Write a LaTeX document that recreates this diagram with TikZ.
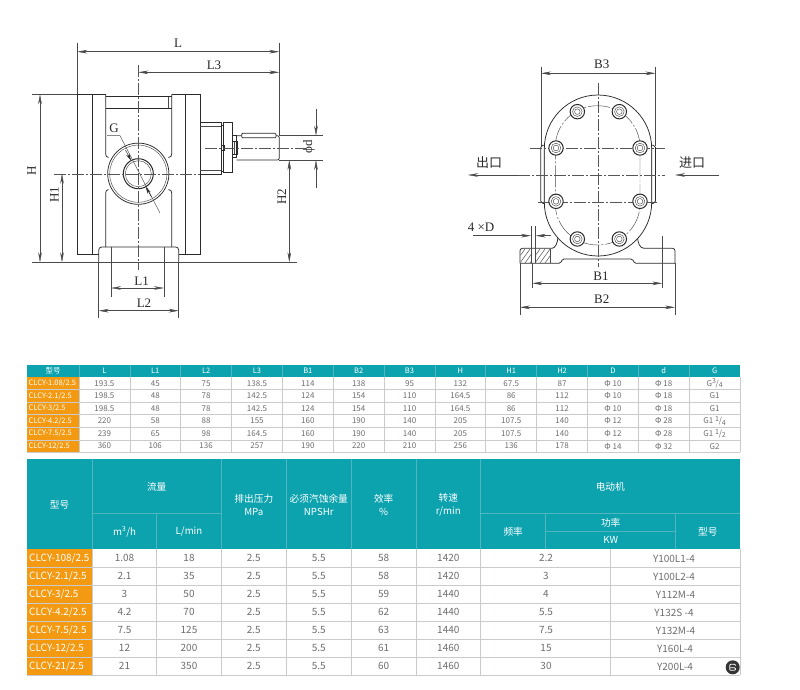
\documentclass[tikz,border=0pt]{standalone}
\usepackage{fontspec}
\setmainfont{Liberation Serif}
\newfontfamily\cjkf{Noto Sans CJK SC}
\usetikzlibrary{arrows.meta,patterns}
\definecolor{teal1}{HTML}{0CA3AF}
\definecolor{tealline}{HTML}{4FB5BE}
\definecolor{orange1}{HTML}{F39A12}
\definecolor{gridc}{HTML}{C9CBCD}
\definecolor{txt}{HTML}{6E6E6E}
\definecolor{ink}{HTML}{2A2A2A}
\tikzset{
 part/.style={draw=ink,line width=0.75pt},
 thinl/.style={draw=ink!85,line width=0.45pt},
 centre/.style={draw=ink!80,line width=0.4pt,dash pattern=on 12pt off 2pt on 2pt off 2pt},
 dim/.style={draw=ink!85,line width=0.45pt,{Stealth[length=10pt,width=3.6pt]}-{Stealth[length=10pt,width=3.6pt]}},
 dimend/.style={draw=ink!85,line width=0.45pt,-{Stealth[length=10pt,width=3.6pt]}},
 lab/.style={font=\fontsize{13}{14}\selectfont,text=ink,inner sep=0pt},
 lab2/.style={font=\cjkf\fontsize{13}{14}\selectfont,text=ink,inner sep=0pt},
 ta/.style={font=\cjkf\fontsize{8}{9}\selectfont,text=txt,inner sep=0pt},
 tah/.style={font=\cjkf\fontsize{7.5}{8}\selectfont,text=white,inner sep=0pt},
 tao/.style={font=\cjkf\fontsize{7.5}{8}\selectfont,text=white,inner sep=0pt,anchor=west},
 tb/.style={font=\cjkf\fontsize{10}{11}\selectfont,text=txt,inner sep=0pt},
 tbh/.style={font=\cjkf\fontsize{9.7}{12.5}\selectfont,text=white,inner sep=0pt,align=center},
 tbo/.style={font=\cjkf\fontsize{10}{11}\selectfont,text=white,inner sep=0pt,anchor=west},
 gridl/.style={draw=gridc,line width=0.7pt},
 headl/.style={draw=tealline,line width=0.7pt},
}
\newcommand{\fracG}[3]{#1\raisebox{2.4pt}{\fontsize{7}{7}\selectfont #2}\kern-.3pt/\raisebox{-1.5pt}{\fontsize{7}{7}\selectfont #3}}
\begin{document}
\begin{tikzpicture}[x=1pt,y=-1pt]
\useasboundingbox (0,0) rectangle (800,689);
\fill[white] (0,0) rectangle (800,689);
%% ===== front view =====
\draw[part] (105.7,94.3) -- (77.3,94.3) -- (77.3,254) -- (98.7,254);
\draw[part] (171.7,94.3) -- (200,94.3) -- (200,254) -- (178.7,254);
\draw[part] (105.7,94.3) -- (105.7,154) .. controls (105.7,156) and (106.5,157) .. (108.5,157.5);
\draw[part] (171.7,94.3) -- (171.7,154) .. controls (171.7,156) and (171,157) .. (168.5,157.5);
\draw[part] (108.5,189.5) .. controls (106.5,190) and (105.7,191) .. (105.7,193) -- (105.7,247);
\draw[part] (168.5,189.5) .. controls (171,190) and (171.7,191) .. (171.7,193) -- (171.7,247);
\draw[part] (105.7,96.5) -- (171.7,96.5);
\draw[part] (105.7,108) -- (171.7,108);
\draw[thinl] (168.5,96.5) -- (168.5,108);
\draw[part] (92.3,94.3) -- (92.3,254);
\draw[part] (185,94.3) -- (185,254);
\draw[part,rounded corners=3pt] (98.7,262.3) -- (98.7,247) -- (178.7,247) -- (178.7,262.3);
\draw[part] (98.7,262.3) -- (178.7,262.3);
% port
\fill[white] (138.3,173.7) circle (30.6);
\draw[part] (138.3,173.7) circle (30.6);
\draw[thinl] (138.3,173.7) circle (28.6);
\draw[part,line width=1pt] (138.3,173.7) circle (15);
\draw[thinl] (138.3,173.7) circle (13);
% drive
\draw[part] (200,122.3) rectangle (221.7,174);
\draw[thinl] (200,126) -- (221.7,126);
\draw[thinl] (200,170.5) -- (221.7,170.5);
\draw[part] (221.7,125) rectangle (223.2,171);
\draw[part,line width=1pt] (223.2,122.7) rectangle (232,172.7);
\draw[part] (221,145) rectangle (224,150);
\draw[part] (232,135) rectangle (236.7,157);
\draw[part,line width=1pt] (232,141.5) rectangle (237,154);
\draw[thinl] (234,141.5) -- (234,154);
\draw[part,rounded corners=2pt] (236.7,135.7) -- (279.3,135.7) -- (279.3,160) -- (236.7,160);
\draw[part,fill=white,rounded corners=1pt] (241.7,133.3) rectangle (276,137.8);
% centre lines
\draw[centre] (138.3,65) -- (138.3,270);
\draw[centre] (54,173.7) -- (200,173.7);
\draw[centre] (205,147.7) -- (306,147.7);
% extension lines
\draw[thinl] (77.3,42.7) -- (77.3,94.3);
\draw[thinl] (279.3,42.7) -- (279.3,135.7);
\draw[thinl] (32,94.3) -- (77.3,94.3);
\draw[thinl] (32,262.3) -- (296.7,262.3);
\draw[thinl] (279.3,135.7) -- (323,135.7);
\draw[thinl] (279.3,160) -- (323,160);
\draw[thinl] (111,247) -- (111,297);
\draw[thinl] (164,247) -- (164,297);
\draw[thinl] (98.7,262.3) -- (98.7,318);
\draw[thinl] (178.7,262.3) -- (178.7,318);
% dims
\coordinate (LL) at (77.3,51.7); \coordinate (LR) at (279.3,51.7);
\draw[dim] (LL) -- (LR);
\coordinate (L3a) at (138.3,72.3); \coordinate (L3b) at (279.3,72.3);
\draw[dim] (L3a) -- (L3b);
\coordinate (Ha) at (40,94.3); \coordinate (Hb) at (40,262.3);
\draw[dim] (Ha) -- (Hb);
\coordinate (H1a) at (62,173.7); \coordinate (H1b) at (62,262.3);
\draw[dim] (H1a) -- (H1b);
\coordinate (H2a) at (289.3,160); \coordinate (H2b) at (289.3,262.3);
\draw[dim] (H2a) -- (H2b);
\coordinate (da) at (316,109); \coordinate (db) at (316,135.7);
\coordinate (dc) at (316,187.7); \coordinate (dd) at (316,160);
\draw[dimend] (da) -- (db);
\draw[dimend] (dc) -- (dd);
\coordinate (L1a) at (111,288); \coordinate (L1b) at (164,288);
\draw[dim] (L1a) -- (L1b);
\coordinate (L2a) at (98.7,310.7); \coordinate (L2b) at (178.7,310.7);
\draw[dim] (L2a) -- (L2b);
% G leader
\draw[thinl] (107,135.7) -- (120,135.7) -- (160,213);
\draw[draw=ink,line width=0.5pt,-{Stealth[length=7pt,width=3.4pt]}] (125.5,150) -- (131,160.5);
\draw[draw=ink,line width=0.5pt,-{Stealth[length=7pt,width=3.4pt]}] (151.5,197) -- (145.7,186.8);
% labels
\node[lab] (tL) at (178,43) {L};
\node[lab] (tL3) at (214,65.7) {L3};
\node[lab,rotate=90] (tH) at (31.7,170.7) {H};
\node[lab,rotate=90] (tH1) at (54.3,195) {H1};
\node[lab,rotate=90] (tH2) at (281.7,196.7) {H2};
\node[lab,rotate=90] (tphid) at (309,146.7) {ϕd};
\node[lab] (tG) at (114,128) {G};
\node[lab] (tL1) at (141.7,281.7) {L1};
\node[lab] (tL2) at (144,303) {L2};
%% ===== side view =====
% foot
\draw[part,rounded corners=2.5pt] (520,263.3) -- (520,248.3) -- (552,248.3);
\draw[part] (552,248.3) .. controls (555,248.3) and (558,243) .. (558,236);
\draw[part] (637.5,236) .. controls (637.5,243) and (640,248.3) .. (644,248.3);
\draw[part,rounded corners=2.5pt] (644,248.3) -- (675,248.3) -- (675,263.3);
\draw[part,rounded corners=1.5pt] (520,263.3) -- (560.5,263.3) -- (562.5,259) -- (632.5,259) -- (634.5,263.3) -- (675,263.3);
% ports
\draw[part,rounded corners=2pt] (546,145) -- (540.7,145.5) -- (540.7,203) -- (546,203.8);
\draw[part] (544.3,145) -- (544.3,204);
\draw[part,rounded corners=2pt] (650,145) -- (655.5,145.5) -- (655.5,203) -- (650,203.8);
\draw[part] (651.7,145) -- (651.7,204);
% casing
\draw[part,fill=white] (544.3,148.7) arc (180:360:53.7) -- (651.7,202.3) arc (0:180:53.7) -- cycle;
\draw[thinl,dash pattern=on 22pt off 2pt on 2pt off 2pt] (555.3,147) arc (180:360:42.35 and 41.3) -- (640,204) arc (0:180:42.35 and 41) -- cycle;
% section through the foot
\begin{scope}
\clip (520.5,249) rectangle (531,263);
\foreach \k in {0,5,...,40} {\draw[thinl] (515+\k,263) -- (525+\k,249);}
\end{scope}
\begin{scope}
\clip (536,249) rectangle (550.5,263);
\foreach \k in {0,5,...,45} {\draw[thinl] (515+\k,263) -- (525+\k,249);}
\end{scope}
\draw[thinl] (531,226) -- (531,263);
\draw[thinl] (535.7,226) -- (535.7,263);
\draw[thinl] (550.5,249) -- (550.5,263);
% centre lines
\draw[centre] (597.7,83) -- (597.7,267);
\draw[centre] (530,148) -- (665,148);
\draw[centre] (538,202.3) -- (657,202.3);
\draw[centre] (518,175) -- (665,175);
% bolts
\foreach \bx/\by [count=\n] in {382/215,508/215,318/324,570/324,318/484,570/484,382/597,508/597}{
 \coordinate (bolt\n) at ({450+\bx/3},{40+\by/3});
 \draw[part,fill=white,line width=1pt] (bolt\n) circle (7.2);
 \draw[thinl] (bolt\n) circle (4.8);
 \draw[thinl] (bolt\n) circle (2.8);
}
% ext + dims
\draw[thinl] (541,66.7) -- (541,146);
\draw[thinl] (655.5,66.7) -- (655.5,146);
\draw[thinl] (532.3,263) -- (532.3,288);
\draw[thinl] (662.3,236) -- (662.3,288);
\draw[thinl] (520,263.3) -- (520,315);
\draw[thinl] (675,263.3) -- (675,315);
\coordinate (B3a) at (541,73.3); \coordinate (B3b) at (655.5,73.3);
\draw[dim] (B3a) -- (B3b);
\coordinate (B1a) at (532.3,283.3); \coordinate (B1b) at (662.3,283.3);
\draw[dim] (B1a) -- (B1b);
\coordinate (B2a) at (520,307.3); \coordinate (B2b) at (675,307.3);
\draw[dim] (B2a) -- (B2b);
\coordinate (Da) at (473,235.7); \coordinate (Db) at (531,235.7);
\coordinate (Dc) at (551,235.7); \coordinate (Dd) at (535.7,235.7);
\draw[dimend] (Da) -- (Db);
\draw[dimend] (Dc) -- (Dd);
\coordinate (oa) at (518,175); \coordinate (ob) at (468,175);
\draw[dimend] (oa) -- (ob);
\coordinate (ia) at (719,175); \coordinate (ib) at (675,175);
\draw[dimend] (ia) -- (ib);
\node[lab] (tB3) at (601.7,64) {B3};
\node[lab] (tB1) at (601,276.7) {B1};
\node[lab] (tB2) at (601.7,299.3) {B2};
\node[lab] (tD) at (481,227) {4 ×D};
\node[lab2] (tout) at (489,163) {出口};
\node[lab2] (tin) at (692,163) {进口};
%% ===== table 1 =====
\fill[teal1] (27.3,365) rectangle (740,377);
\fill[orange1] (27.3,377) rectangle (79,452.3);
\foreach \yy in {389.3,402,414.7,427.3,440,452.3} \draw[gridl] (27.3,\yy) -- (740,\yy);
\foreach \c in {1,...,13} {
 \draw[headl] ({79+(\c-1)*50.85},365) -- ({79+(\c-1)*50.85},377);
 \draw[gridl] ({79+(\c-1)*50.85},377) -- ({79+(\c-1)*50.85},452.3);
}
\draw[gridl] (740,377) -- (740,452.3);
\foreach \t [count=\c] in {L,L1,L2,L3,B1,B2,B3,H,H1,H2,D,d,G}
 \node[tah] (ah\c) at ({79+(\c-.5)*50.85},371) {\t};
\node[tah] (ah0) at (53,371) {型号};
\foreach \nm [count=\r] in {CLCY-1.08/2.5,CLCY-2.1/2.5,CLCY-3/2.5,CLCY-4.2/2.5,CLCY-7.5/2.5,CLCY-12/2.5}
 \node[tao] (an\r) at (28.5,{383.2+(\r-1)*12.58}) {\nm};
\newcommand{\arow}[2]{\foreach \v [count=\c] in {#2}
 \node[ta] (a#1-\c) at ({79+(\c-.5)*50.85},{383.2+(#1-1)*12.58}) {\v};}
\arow{1}{193.5,45,75,138.5,114,138,95,132,67.5,87,Φ 10,Φ 18,{\fracG{G}{3}{4}}}
\arow{2}{198.5,48,78,142.5,124,154,110,164.5,86,112,Φ 10,Φ 18,G1}
\arow{3}{198.5,48,78,142.5,124,154,110,164.5,86,112,Φ 10,Φ 18,G1}
\arow{4}{220,58,88,155,160,190,140,205,107.5,140,Φ 12,Φ 28,{\fracG{G1 }{1}{4}}}
\arow{5}{239,65,98,164.5,160,190,140,205,107.5,140,Φ 12,Φ 28,{\fracG{G1 }{1}{2}}}
\arow{6}{360,106,136,257,190,220,210,256,136,178,Φ 14,Φ 32,G2}
%% ===== table 2 =====
\fill[teal1] (27.3,459.3) rectangle (740,549.3);
\fill[orange1] (27.3,549.3) rectangle (92,675);
\foreach \k in {1,...,7} \draw[gridl] (27.3,{549.3+\k*18}) -- (740,{549.3+\k*18});
\foreach \xx in {92,156.7,221.3,286.3,351.3,416,480.7,610.3} \draw[gridl] (\xx,549.3) -- (\xx,675);
\draw[gridl] (740,549.3) -- (740,675);
\foreach \xx in {92,221.3,286.3,351.3,416,480.7} \draw[headl] (\xx,459.3) -- (\xx,549.3);
\draw[headl] (92,513.3) -- (221.3,513.3);
\draw[headl] (156.7,513.3) -- (156.7,549.3);
\draw[headl] (480.7,513.3) -- (740,513.3);
\draw[headl] (545.7,513.3) -- (545.7,549.3);
\draw[headl] (675.7,513.3) -- (675.7,549.3);
\draw[headl] (545.7,531) -- (675.7,531);
\node[tbh] (h0) at (59.5,505) {型号};
\node[tbh] (h1) at (156.7,487) {流量};
\node[tbh] (h2) at (124.5,532) {m\textsuperscript{3}/h};
\node[tbh] (h3) at (189,532) {L/min};
\node[tbh] (h4) at (253.8,505) {排出压力\\MPa};
\node[tbh] (h5) at (318.8,505) {必须汽蚀余量\\NPSHr};
\node[tbh] (h6) at (383.7,505) {效率\\\%};
\node[tbh] (h7) at (448.3,505) {转速\\r/min};
\node[tbh] (h8) at (610.3,487) {电动机};
\node[tbh] (h9) at (513.2,532) {频率};
\node[tbh] (h10) at (610.7,522.3) {功率};
\node[tbh] (h11) at (610.7,540) {KW};
\node[tbh] (h12) at (707.8,532) {型号};
\foreach \nm [count=\r] in {CLCY-108/2.5,CLCY-2.1/2.5,CLCY-3/2.5,CLCY-4.2/2.5,CLCY-7.5/2.5,CLCY-12/2.5,CLCY-21/2.5}
 \node[tbo] (bn\r) at (29,{558.3+(\r-1)*18}) {\nm};
\newcommand{\brow}[8]{%
 \node[tb] (b#1-1) at (124.5,{558.3+(#1-1)*18}) {#2};
 \node[tb] (b#1-2) at (189,{558.3+(#1-1)*18}) {#3};
 \node[tb] (b#1-3) at (253.8,{558.3+(#1-1)*18}) {2.5};
 \node[tb] (b#1-4) at (318.8,{558.3+(#1-1)*18}) {5.5};
 \node[tb] (b#1-5) at (383.7,{558.3+(#1-1)*18}) {#4};
 \node[tb] (b#1-6) at (448.3,{558.3+(#1-1)*18}) {#5};
 \node[tb] (b#1-7) at (546,{558.3+(#1-1)*18}) {#6};
 \node[tb] (b#1-8) at (#8,{558.8+(#1-1)*18}) {#7};
}
\brow{1}{1.08}{18}{58}{1420}{2.2}{Y100L\raisebox{-.8pt}{1}-4}{674}
\brow{2}{2.1}{35}{58}{1420}{3}{Y100L\raisebox{-.8pt}{2}-4}{674}
\brow{3}{3}{50}{59}{1440}{4}{Y112M-4}{675.5}
\brow{4}{4.2}{70}{62}{1440}{5.5}{Y132S -4}{674}
\brow{5}{7.5}{125}{63}{1440}{7.5}{Y132M-4}{675.5}
\brow{6}{12}{200}{61}{1460}{15}{Y160L-4}{675}
\brow{7}{21}{350}{60}{1460}{30}{Y200L-4}{675}
%% ===== corner badge =====
\fill[ink!95] (732.7,667.3) circle (7);
\draw[white,line width=0.8pt,rounded corners=1pt] (735.5,665.5) -- (735.5,664.3) -- (729.7,664.3) -- (729.7,670.3) -- (735.5,670.3) -- (735.5,667.8) -- (729.7,667.8);
\end{tikzpicture}
\end{document}
